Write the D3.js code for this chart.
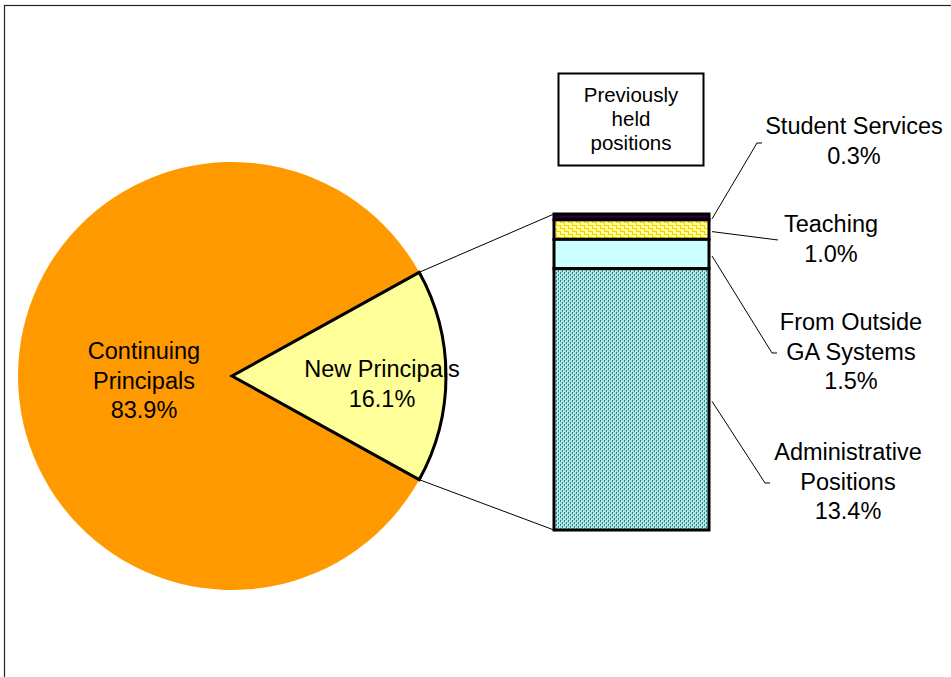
<!DOCTYPE html>
<html>
<head>
<meta charset="utf-8">
<script src="https://cdn.jsdelivr.net/npm/d3@7"></script>
<style>
  body { margin: 0; background: #fff; }
  text { font-family: "Liberation Sans", Arial, sans-serif; fill: #000; }
</style>
</head>
<body>
<div id="container"></div>
<script>
// data
let pieLabels = [["Continuing", "Principals"], ["New Principals"]];
let pieValues = [83.9, 16.1];

// bar segments, listed top to bottom
let barLabels = [["Student Services"], ["Teaching"], ["From Outside", "GA Systems"], ["Administrative", "Positions"]];
let barValues = [0.3, 1.0, 1.5, 13.4];
let barPatterns = ["#330033", "url(#teachPat)", "#CCFFFF", "url(#adminPat)"];

let boxText = ["Previously", "held", "positions"];

let w = 951;
let h = 677;
let viz = d3.select("#container")
  .append("svg")
    .attr("width", w)
    .attr("height", h)
;

// patterns
let defs = viz.append("defs");
let tp = defs.append("pattern").attr("id", "teachPat")
  .attr("patternUnits", "userSpaceOnUse").attr("width", 8).attr("height", 6);
tp.append("rect").attr("width", 8).attr("height", 6).attr("fill", "#FFFF99");
tp.append("rect").attr("x", 0).attr("y", 0).attr("width", 5).attr("height", 1).attr("fill", "#FFCC00");
tp.append("rect").attr("x", 4).attr("y", 1).attr("width", 1).attr("height", 2).attr("fill", "#FFCC00");
tp.append("rect").attr("x", 4).attr("y", 3).attr("width", 4).attr("height", 1).attr("fill", "#FFCC00");
tp.append("rect").attr("x", 0).attr("y", 3).attr("width", 1).attr("height", 3).attr("fill", "#FFCC00");

let ap = defs.append("pattern").attr("id", "adminPat")
  .attr("patternUnits", "userSpaceOnUse").attr("width", 4).attr("height", 4);
ap.append("rect").attr("width", 4).attr("height", 4).attr("fill", "#a8e0e0");
ap.append("rect").attr("x", 0).attr("y", 0).attr("width", 1).attr("height", 2).attr("fill", "#1a8c8c");
ap.append("rect").attr("x", 2).attr("y", 2).attr("width", 1).attr("height", 2).attr("fill", "#1a8c8c");
ap.append("rect").attr("x", 1).attr("y", 1).attr("width", 1).attr("height", 1).attr("fill", "#ffffff");
ap.append("rect").attr("x", 3).attr("y", 3).attr("width", 1).attr("height", 1).attr("fill", "#ffffff");

// outer frame
viz.append("rect")
  .attr("x", 4.5).attr("y", 5.5)
  .attr("width", 1200).attr("height", 1200)
  .attr("fill", "none")
  .attr("stroke", "#222")
  .attr("stroke-width", 1.2)
;

// pie
let cx = 232, cy = 376, r = 214;
let total = d3.sum(pieValues);
let newAngle = pieValues[1] / total * 2 * Math.PI;
let start = Math.PI / 2 + newAngle / 2;
let pie = d3.pie().sort(null).startAngle(start).endAngle(start + 2 * Math.PI);
let arcs = pie(pieValues);
let arcMaker = d3.arc().innerRadius(0).outerRadius(r);
let pieColors = ["#FF9900", "#FFFF99"];

let pieGroup = viz.append("g").attr("transform", "translate(" + cx + "," + cy + ")");
pieGroup.selectAll("path").data(arcs).enter()
  .append("path")
    .attr("d", arcMaker)
    .attr("fill", function(d, i){ return pieColors[i]; })
    .attr("stroke", function(d, i){ return i == 1 ? "#000" : "none"; })
    .attr("stroke-width", 3)
    .attr("stroke-linejoin", "miter")
;

// bar of the split slice
let barX = 554, barW = 155;
let barTop = 214, barBottom = 530;
let yScale = d3.scaleLinear().domain([0, d3.sum(barValues)]).range([barBottom, barTop]);

// cumulative from the bottom
let segs = [];
let acc = 0;
for (let i = barValues.length - 1; i >= 0; i--) {
  segs.unshift({ i: i, y0: acc, y1: acc + barValues[i] });
  acc += barValues[i];
}

// connector lines from the slice to the bar
let newArc = arcs[1];
function pt(a){ return [cx + r * Math.sin(a), cy - r * Math.cos(a)]; }
let pTop = pt(newArc.startAngle);
let pBot = pt(newArc.endAngle);
viz.append("line").attr("x1", pTop[0]).attr("y1", pTop[1]).attr("x2", barX).attr("y2", yScale(acc))
  .attr("stroke", "#000").attr("stroke-width", 1);
viz.append("line").attr("x1", pBot[0]).attr("y1", pBot[1]).attr("x2", barX).attr("y2", yScale(0))
  .attr("stroke", "#000").attr("stroke-width", 1);

let barGroup = viz.append("g");
barGroup.selectAll("rect").data(segs).enter()
  .append("rect")
    .attr("x", barX)
    .attr("y", function(d){ return yScale(d.y1); })
    .attr("width", barW)
    .attr("height", function(d){ return yScale(d.y0) - yScale(d.y1); })
    .attr("fill", function(d){ return barPatterns[d.i]; })
    .attr("stroke", "#000")
    .attr("stroke-width", 3)
;

// pie labels
let pieLabelPos = [[144, 359], [382, 377]];
let lineH = 29.5;
let fs = 23.5;
arcs.forEach(function(d, i){
  let lines = pieLabels[i].concat([pieValues[i].toFixed(1) + "%"]);
  let t = viz.append("text")
    .attr("text-anchor", "middle")
    .attr("font-size", fs)
  ;
  lines.forEach(function(s, k){
    t.append("tspan").attr("x", pieLabelPos[i][0]).attr("y", pieLabelPos[i][1] + k * lineH).text(s);
  });
});

// bar labels with leader lines
let barLabelPos = [[854, 134], [831, 232], [851, 330], [848, 460]];
let leaderEnd = [[757, 143, 762], [778, 240, 778], [772, 353, 777], [765, 483, 770]];
segs.forEach(function(d){
  let i = d.i;
  let midY = (yScale(d.y0) + yScale(d.y1)) / 2;
  let e = leaderEnd[i];
  viz.append("polyline")
    .attr("points", [[barX + barW + 3, midY + 2], [e[0], e[1]], [e[2], e[1]]].join(" "))
    .attr("fill", "none")
    .attr("stroke", "#000")
    .attr("stroke-width", 1)
  ;
  let lines = barLabels[i].concat([barValues[i].toFixed(1) + "%"]);
  let t = viz.append("text")
    .attr("text-anchor", "middle")
    .attr("font-size", fs)
  ;
  lines.forEach(function(s, k){
    t.append("tspan").attr("x", barLabelPos[i][0]).attr("y", barLabelPos[i][1] + k * lineH).text(s);
  });
});

// "Previously held positions" box
viz.append("rect")
  .attr("x", 558.5).attr("y", 73.5)
  .attr("width", 145).attr("height", 92)
  .attr("fill", "#fff")
  .attr("stroke", "#000")
  .attr("stroke-width", 2)
;
let bt = viz.append("text").attr("text-anchor", "middle").attr("font-size", 20.5);
boxText.forEach(function(s, k){
  bt.append("tspan").attr("x", 631).attr("y", 102 + k * 24).text(s);
});
</script>
</body>
</html>
